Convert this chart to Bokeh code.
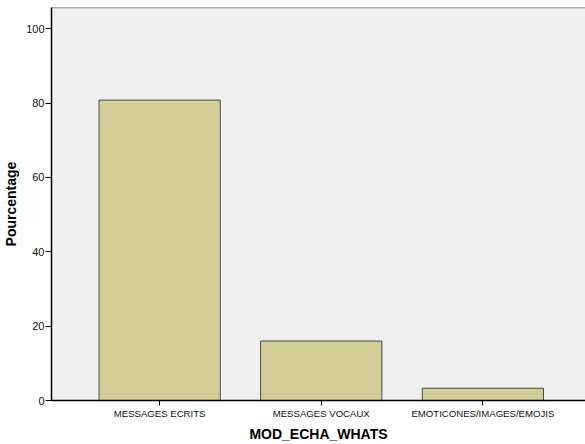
from bokeh.plotting import figure
from bokeh.models import Range1d, FixedTicker, Span
from bokeh.embed import file_html
from bokeh.resources import INLINE

categories = ["MESSAGES ECRITS", "MESSAGES VOCAUX", "EMOTICONES/IMAGES/EMOJIS"]
percentages = [80.8, 16.0, 3.3]
y_ticks = [0, 20, 40, 60, 80, 100]
x_title = "MOD_ECHA_WHATS"
y_title = "Pourcentage"

positions = [i + 0.5 for i in range(len(categories))]
y_max = 105.7

p = figure(width=585, height=444, output_backend="svg", toolbar_location=None,
           x_range=Range1d(-0.169, 3.135), y_range=Range1d(0, y_max),
           min_border_left=45, min_border_right=0, min_border_top=7,
           min_border_bottom=44)

p.vbar(x=positions, top=percentages, width=0.75, bottom=0,
       fill_color="#D3CE97", line_color="#4a4a4a", line_width=1)

p.background_fill_color = "#F0F0F0"
p.border_fill_color = "white"
p.outline_line_color = None
p.xgrid.visible = False
p.ygrid.visible = False

p.add_layout(Span(location=y_max, dimension="width", line_color="#6a6a6a", line_width=1.5))

font = "Liberation Sans"
p.xaxis.ticker = FixedTicker(ticks=positions)
p.xaxis.major_label_overrides = {pos: cat for pos, cat in zip(positions, categories)}
p.yaxis.ticker = FixedTicker(ticks=y_ticks)
p.xaxis.axis_label = x_title
p.yaxis.axis_label = y_title

for ax in (p.xaxis[0], p.yaxis[0]):
    ax.axis_line_color = "black"
    ax.axis_line_width = 1.5
    ax.major_tick_line_color = "black"
    ax.minor_tick_line_color = None
    ax.major_tick_in = 0
    ax.major_label_text_font = font
    ax.major_label_text_color = "#111111"
    ax.major_label_text_line_height = 1.0
    ax.axis_label_text_font = font
    ax.axis_label_text_font_style = "bold"
    ax.axis_label_text_font_size = "14px"
    ax.axis_label_text_color = "black"
    ax.axis_label_text_line_height = 1.0

p.xaxis.major_tick_out = 5
p.xaxis.major_label_text_font_size = "9.6px"
p.xaxis.major_label_standoff = 2
p.xaxis.axis_label_standoff = 4
p.yaxis.major_tick_out = 6
p.yaxis.major_label_text_font_size = "11px"
p.yaxis.major_label_standoff = 1
p.yaxis.axis_label_standoff = 4

open("out.html", "w").write(file_html(p, INLINE))
